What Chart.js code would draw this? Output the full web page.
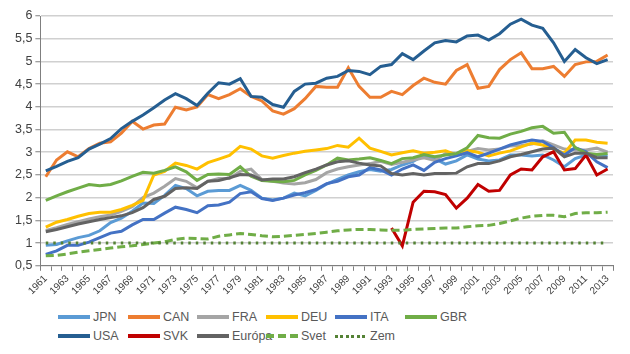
<!DOCTYPE html>
<html>
<head>
<meta charset="utf-8">
<script src="https://cdn.jsdelivr.net/npm/chart.js@4.4.1/dist/chart.umd.min.js"></script>
<style>
  html, body { margin: 0; padding: 0; background: #ffffff; }
  #wrap { position: relative; width: 630px; height: 354px; overflow: hidden; font-family: 'Liberation Sans Narrow', 'Liberation Sans', Arial, sans-serif; }
  #chartBox { position: absolute; left: 0; top: 0; width: 630px; height: 305px; }
  .item { position: absolute; height: 14px; display: flex; align-items: center; font-size: 12.5px; color: #595959; white-space: nowrap; }
  .sw { width: 32px; height: 4px; margin-right: 3px; }
</style>
</head>
<body>
<div id="wrap">
  <div id="chartBox"><canvas id="c" width="630" height="305"></canvas></div>
  <div id="legend"></div>
</div>
<script>
const categories = ['1961','1962','1963','1964','1965','1966','1967','1968','1969','1970','1971','1972','1973','1974','1975','1976','1977','1978','1979','1980','1981','1982','1983','1984','1985','1986','1987','1988','1989','1990','1991','1992','1993','1994','1995','1996','1997','1998','1999','2000','2001','2002','2003','2004','2005','2006','2007','2008','2009','2010','2011','2012','2013'];

const yTicks = [0.5, 1, 1.5, 2, 2.5, 3, 3.5, 4, 4.5, 5, 5.5, 6];

const JPN = [0.95,0.97,1.05,1.12,1.17,1.27,1.45,1.55,1.70,1.88,1.87,2.05,2.27,2.20,2.04,2.14,2.16,2.16,2.27,2.16,1.99,1.95,1.99,2.10,2.04,2.16,2.30,2.40,2.50,2.57,2.62,2.58,2.62,2.72,2.80,2.93,2.86,2.74,2.81,2.94,2.85,2.81,2.83,2.94,2.94,2.92,2.94,2.83,2.68,2.86,2.94,2.94,2.92];
const CAN = [2.46,2.83,3.01,2.90,3.08,3.20,3.23,3.42,3.68,3.51,3.60,3.62,3.99,3.93,4.00,4.27,4.18,4.27,4.40,4.23,4.13,3.91,3.84,3.96,4.18,4.45,4.43,4.43,4.86,4.45,4.21,4.21,4.34,4.27,4.47,4.63,4.54,4.50,4.80,4.93,4.41,4.45,4.82,5.04,5.19,4.84,4.84,4.89,4.67,4.93,4.99,5.00,5.14];
const FRA = [1.28,1.34,1.41,1.47,1.53,1.58,1.62,1.70,1.80,2.00,2.10,2.25,2.42,2.36,2.22,2.36,2.42,2.42,2.58,2.63,2.40,2.36,2.32,2.30,2.33,2.40,2.55,2.63,2.68,2.72,2.75,2.80,2.73,2.78,2.83,2.88,2.82,2.97,2.95,3.02,3.08,3.05,3.07,3.14,3.15,3.18,3.25,3.16,3.07,3.05,3.05,3.09,3.00];
const DEU = [1.35,1.46,1.52,1.59,1.65,1.68,1.68,1.74,1.83,1.94,2.50,2.58,2.76,2.71,2.63,2.77,2.85,2.93,3.13,3.07,2.92,2.87,2.93,2.98,3.02,3.05,3.08,3.15,3.11,3.31,3.09,3.02,2.94,2.99,3.03,2.98,3.00,3.03,2.94,3.04,3.00,2.92,2.98,3.03,3.12,3.20,3.16,3.07,2.98,3.27,3.27,3.22,3.20];
const ITA = [0.75,0.83,0.95,0.95,1.02,1.12,1.22,1.26,1.40,1.52,1.52,1.66,1.79,1.74,1.67,1.82,1.84,1.90,2.09,2.13,1.98,1.94,1.99,2.06,2.11,2.18,2.31,2.36,2.46,2.50,2.66,2.61,2.50,2.63,2.72,2.60,2.78,2.86,2.92,2.99,2.90,2.98,3.07,3.16,3.22,3.27,3.24,3.10,2.94,3.10,3.01,2.79,2.66];
const GBR = [1.94,2.04,2.13,2.21,2.29,2.26,2.29,2.37,2.47,2.56,2.54,2.60,2.68,2.57,2.38,2.51,2.52,2.51,2.68,2.47,2.38,2.36,2.35,2.38,2.50,2.60,2.72,2.87,2.83,2.85,2.88,2.82,2.75,2.86,2.88,2.95,2.90,2.94,2.97,3.10,3.37,3.32,3.31,3.40,3.46,3.54,3.57,3.42,3.44,3.10,2.98,2.95,2.97];
const USA = [2.59,2.69,2.80,2.88,3.07,3.18,3.30,3.52,3.68,3.82,3.98,4.15,4.29,4.18,4.03,4.30,4.53,4.50,4.62,4.23,4.21,4.05,3.99,4.34,4.50,4.52,4.63,4.67,4.80,4.78,4.71,4.89,4.93,5.17,5.04,5.23,5.41,5.46,5.43,5.56,5.58,5.47,5.61,5.82,5.93,5.80,5.73,5.41,5.00,5.26,5.08,4.95,5.04];
const SVK = [null,null,null,null,null,null,null,null,null,null,null,null,null,null,null,null,null,null,null,null,null,null,null,null,null,null,null,null,null,null,null,null,1.33,0.94,1.90,2.14,2.13,2.07,1.77,1.99,2.29,2.14,2.16,2.50,2.63,2.61,2.90,3.01,2.61,2.64,2.94,2.50,2.63];
const EUR = [1.25,1.30,1.36,1.42,1.47,1.52,1.56,1.60,1.67,1.78,1.96,2.03,2.20,2.22,2.20,2.36,2.38,2.44,2.51,2.50,2.39,2.41,2.41,2.46,2.55,2.63,2.72,2.79,2.81,2.76,2.72,2.70,2.53,2.50,2.53,2.50,2.53,2.53,2.54,2.68,2.75,2.75,2.81,2.90,2.95,3.01,3.07,3.09,2.90,2.98,2.98,2.88,2.88];
const SVET = [0.72,0.73,0.76,0.80,0.83,0.86,0.89,0.92,0.94,0.97,1.00,1.03,1.08,1.11,1.10,1.09,1.15,1.18,1.21,1.19,1.16,1.14,1.15,1.17,1.19,1.21,1.24,1.27,1.29,1.30,1.30,1.29,1.28,1.28,1.30,1.31,1.32,1.33,1.33,1.36,1.38,1.39,1.43,1.49,1.55,1.59,1.61,1.61,1.58,1.65,1.67,1.67,1.68];
const ZEM = [1,1,1,1,1,1,1,1,1,1,1,1,1,1,1,1,1,1,1,1,1,1,1,1,1,1,1,1,1,1,1,1,1,1,1,1,1,1,1,1,1,1,1,1,1,1,1,1,1,1,1,1,1];

const seriesNames = ['JPN','CAN','FRA','DEU','ITA','GBR','USA','SVK','Európa','Svet','Zem'];
const seriesData = [JPN, CAN, FRA, DEU, ITA, GBR, USA, SVK, EUR, SVET, ZEM];
const seriesColors = ['#5B9BD5','#ED7D31','#A5A5A5','#FFC000','#4472C4','#70AD47','#255E91','#C00000','#636363','#70AD47','#548235'];
const seriesStyle = ['solid','solid','solid','solid','solid','solid','solid','solid','solid','dash','dot'];

const FONT = "'Liberation Sans Narrow', 'Liberation Sans', Arial, sans-serif";
const FONT_X = "'Liberation Sans', Arial, sans-serif";

const datasets = seriesNames.map((name, i) => ({
  label: name,
  data: seriesData[i],
  borderColor: seriesColors[i],
  backgroundColor: seriesColors[i],
  borderWidth: 3,
  borderDash: seriesStyle[i] === 'dash' ? [8, 4] : (seriesStyle[i] === 'dot' ? [2.5, 5] : []),
  pointRadius: 0,
  pointHoverRadius: 0,
  tension: 0,
  fill: false,
  spanGaps: false,
  order: seriesNames.length - i
}));

new Chart(document.getElementById('c'), {
  type: 'line',
  data: { labels: categories, datasets: datasets },
  options: {
    responsive: false,
    animation: false,
    layout: { padding: { left: 12, right: 17, top: 16, bottom: 6 } },
    plugins: { legend: { display: false }, tooltip: { enabled: false } },
    scales: {
      x: {
        type: 'category',
        offset: true,
        grid: { display: true, drawOnChartArea: false, drawTicks: true, tickLength: 5, offset: true, tickColor: '#7f7f7f', tickWidth: 1 },
        border: { display: true, color: '#7f7f7f', width: 1 },
        ticks: {
          autoSkip: false, maxRotation: 45, minRotation: 45, padding: 2,
          color: '#404040', font: { family: FONT_X, size: 10 },
          callback: function(v, idx) { return idx % 2 === 0 ? categories[idx] : ''; }
        }
      },
      y: {
        min: yTicks[0], max: yTicks[yTicks.length - 1],
        afterBuildTicks: function(axis) { axis.ticks = yTicks.map(v => ({ value: v })); },
        grid: { color: '#D0D0D0', lineWidth: 1.5, drawTicks: true, tickLength: 5, tickColor: '#7f7f7f', tickWidth: 1 },
        border: { display: true, color: '#7f7f7f', width: 1 },
        ticks: {
          padding: 3, color: '#404040', font: { family: FONT, size: 12.5 },
          callback: function(v) { return String(v).replace('.', ','); }
        }
      }
    }
  }
});

// HTML legend built from the same series lists
const legendCols = [58, 128, 197, 266, 335, 405];
const legendRows = [310, 329];
const legendEl = document.getElementById('legend');
seriesNames.forEach((name, i) => {
  const item = document.createElement('div');
  item.className = 'item';
  item.style.left = legendCols[i % 6] + 'px';
  item.style.top = legendRows[Math.floor(i / 6)] + 'px';
  const sw = document.createElement('span');
  sw.className = 'sw';
  const col = seriesColors[i];
  if (seriesStyle[i] === 'dash') {
    sw.style.background = 'repeating-linear-gradient(to right, ' + col + ' 0 8px, transparent 8px 12px)';
  } else if (seriesStyle[i] === 'dot') {
    sw.style.background = 'repeating-linear-gradient(to right, ' + col + ' 0 3px, transparent 3px 5.5px)';
    sw.style.height = '3px';
  } else {
    sw.style.background = col;
  }
  const tx = document.createElement('span');
  tx.textContent = name;
  item.appendChild(sw);
  item.appendChild(tx);
  legendEl.appendChild(item);
});
</script>
</body>
</html>
